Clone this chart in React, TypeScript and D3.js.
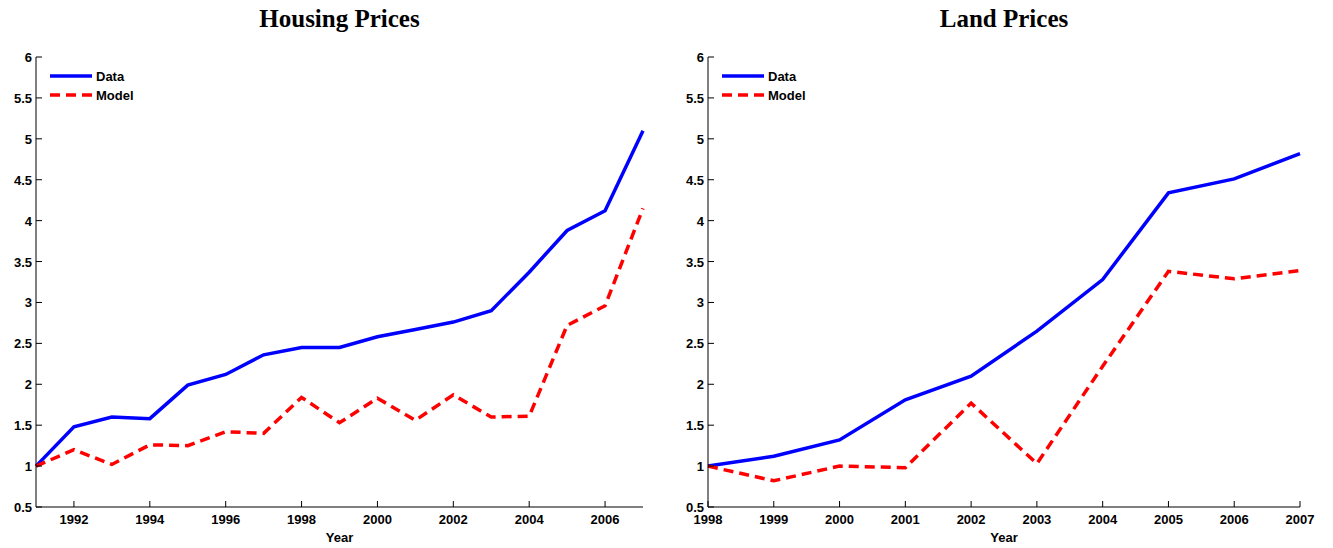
import * as d3 from "d3";

const houseYears = d3.range(1991, 2008);
const houseData = [1.0, 1.48, 1.6, 1.58, 1.99, 2.12, 2.36, 2.45, 2.45, 2.58, 2.67, 2.76, 2.9, 3.37, 3.88, 4.12, 5.1];
const houseModel = [1.0, 1.2, 1.02, 1.26, 1.25, 1.42, 1.4, 1.84, 1.53, 1.83, 1.56, 1.87, 1.6, 1.61, 2.72, 2.96, 4.15];
const landYears = d3.range(1998, 2008);
const landData = [1.0, 1.12, 1.32, 1.81, 2.1, 2.65, 3.28, 4.34, 4.51, 4.82];
const landModel = [1.0, 0.82, 1.0, 0.98, 1.77, 1.03, 2.22, 3.38, 3.29, 3.39];
const houseTicks = [1992, 1994, 1996, 1998, 2000, 2002, 2004, 2006];
const yTicks = [0.5, 1, 1.5, 2, 2.5, 3, 3.5, 4, 4.5, 5, 5.5, 6];

const TOP = 57, BOTTOM = 507;
const font = "Arial, 'Liberation Sans', sans-serif";

function Panel(props: {
  title: string; left: number; right: number; years: number[]; data: number[]; model: number[];
  xDomain: [number, number]; xTicks: number[];
}) {
  const x = d3.scaleLinear().domain(props.xDomain).range([props.left, props.right]);
  const y = d3.scaleLinear().domain([0.5, 6]).range([BOTTOM, TOP]);
  const line = d3.line<number>().x((_, i) => x(props.years[i])).y((d) => y(d));
  const cx = (props.left + props.right) / 2;
  return (
    <g>
      <text x={cx} y={27} textAnchor="middle" fontFamily="'Liberation Serif', 'DejaVu Serif', serif" fontWeight="bold" fontSize={25}>{props.title}</text>
      <path d={line(props.data)!} fill="none" stroke="#0000ff" strokeWidth={3.5} />
      <path d={line(props.model)!} fill="none" stroke="#ff0000" strokeWidth={3.5} strokeDasharray="10 6" />
      <line x1={props.left} x2={props.left} y1={TOP} y2={BOTTOM} stroke="#000" />
      <line x1={props.left} x2={props.right} y1={BOTTOM} y2={BOTTOM} stroke="#000" />
      {yTicks.map((t) => (
        <g key={t}>
          <line x1={props.left} x2={props.left + 6} y1={y(t)} y2={y(t)} stroke="#000" />
          <text x={props.left - 4} y={y(t) + 5} textAnchor="end" fontFamily={font} fontWeight="bold" fontSize={13}>{t}</text>
        </g>
      ))}
      {props.xTicks.map((t) => (
        <g key={t}>
          <line x1={x(t)} x2={x(t)} y1={BOTTOM} y2={BOTTOM - 6} stroke="#000" />
          <text x={x(t)} y={BOTTOM + 17} textAnchor="middle" fontFamily={font} fontWeight="bold" fontSize={13}>{t}</text>
        </g>
      ))}
      <text x={cx} y={BOTTOM + 35} textAnchor="middle" fontFamily={font} fontWeight="bold" fontSize={13}>Year</text>
      <line x1={props.left + 14} x2={props.left + 56} y1={76} y2={76} stroke="#0000ff" strokeWidth={3.5} />
      <text x={props.left + 60} y={81} fontFamily={font} fontWeight="bold" fontSize={13}>Data</text>
      <line x1={props.left + 14} x2={props.left + 56} y1={95} y2={95} stroke="#ff0000" strokeWidth={3.5} strokeDasharray="10 6" />
      <text x={props.left + 60} y={100} fontFamily={font} fontWeight="bold" fontSize={13}>Model</text>
    </g>
  );
}

export default function App() {
  return (
    <svg width={1333} height={548} style={{ position: "absolute", left: 0, top: 0 }}>
      <rect width={1333} height={548} fill="#fff" />
      <Panel title="Housing Prices" left={36} right={643} years={houseYears} data={houseData} model={houseModel} xDomain={[1991, 2007]} xTicks={houseTicks} />
      <Panel title="Land Prices" left={708} right={1300} years={landYears} data={landData} model={landModel} xDomain={[1998, 2007]} xTicks={landYears} />
    </svg>
  );
}
